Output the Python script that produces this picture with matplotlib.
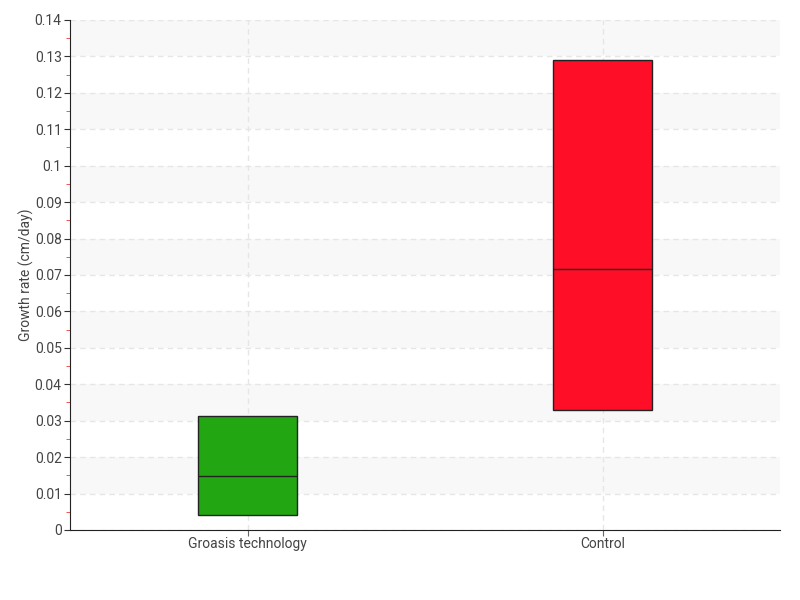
import matplotlib
matplotlib.use("Agg")
import matplotlib.pyplot as plt
from matplotlib.ticker import MultipleLocator, FuncFormatter

categories = ["Groasis technology", "Control"]
q1 = [0.0041, 0.0329]
median = [0.0148, 0.0716]
q3 = [0.0313, 0.1290]
colors = ["#22a611", "#ff0e27"]

plt.rcParams['font.family'] = ['Liberation Sans Narrow', 'Roboto', 'DejaVu Sans']

fig = plt.figure(figsize=(8, 6), dpi=100)
ax = fig.add_axes([0.0875, 0.1167, 0.8875, 0.85])

# background bands
for k in range(1, 14, 2):
    ax.axhspan(k * 0.01, (k + 1) * 0.01, color="#f8f8f8", zorder=0, lw=0)

stats = []
for i, c in enumerate(categories):
    stats.append(dict(label=c, med=median[i], q1=q1[i], q3=q3[i],
                      whislo=q1[i], whishi=q3[i], fliers=[]))
bp = ax.bxp(stats, positions=range(len(categories)), widths=0.28,
            showfliers=False, showcaps=False, patch_artist=True,
            boxprops=dict(edgecolor="#222222", linewidth=1.0),
            medianprops=dict(color="#222222", linewidth=1.0),
            whiskerprops=dict(linewidth=0))
for patch, col in zip(bp['boxes'], colors):
    patch.set_facecolor(col)
    patch.set_zorder(3)
for m in bp['medians']:
    m.set_zorder(4)

ax.set_xlim(-0.5, 1.5)
ax.set_ylim(0, 0.14)
ax.yaxis.set_major_locator(MultipleLocator(0.01))
ax.yaxis.set_minor_locator(MultipleLocator(0.005))
ax.yaxis.set_major_formatter(FuncFormatter(lambda v, p: "%g" % round(v, 3)))
ax.grid(True, which="major", axis="both", color="#e6e6e6", linestyle=(0, (4, 3)), linewidth=1, zorder=1)
ax.set_axisbelow(True)

for s in ["top", "right"]:
    ax.spines[s].set_visible(False)
ax.spines["left"].set_color("#222222")
ax.spines["bottom"].set_color("#222222")

ax.tick_params(axis="y", which="major", length=4, color="#333333", labelsize=10, labelcolor="#444444", pad=2)
ax.tick_params(axis="y", which="minor", length=3, color="#ff3333")
ax.tick_params(axis="x", length=4, color="#666666", labelsize=10, labelcolor="#444444", pad=1)
ax.set_ylabel("Growth rate (cm/day)", fontsize=10, color="#444444")
ax.yaxis.set_label_coords(-0.05, 0.5)

fig.savefig("out.png", dpi=100)
